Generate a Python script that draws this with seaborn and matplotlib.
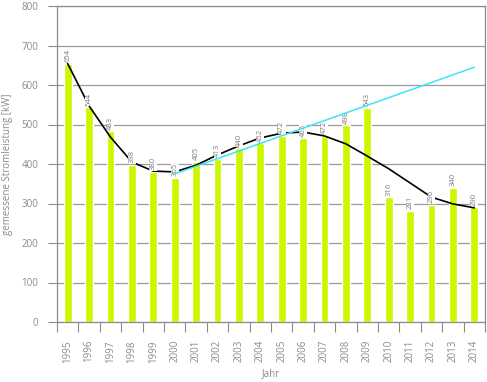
import matplotlib
matplotlib.use("Agg")
import matplotlib.pyplot as plt
from matplotlib.ticker import FixedLocator
import numpy as np
import pandas as pd
import seaborn as sns

# ── data ──────────────────────────────────────────────────────────────────────
years = [str(y) for y in range(1995, 2015)]
power_kw = [654, 544, 483, 398, 380, 365, 405, 413, 440, 452,
            472, 465, 472, 498, 543, 316, 281, 296, 340, 290]

# black smoothed trend (value per year)
smooth_kw = [654, 547, 468, 405, 382, 380, 397, 423, 446, 466,
             478, 481, 471, 451, 420, 388, 352, 316, 299, 289]

# cyan linear trend 2000 → 2014
lin_years = ["2000", "2014"]
lin_kw = [375, 645]

y_ticks = list(range(0, 801, 100))

BAR_COLOR = "#ccf700"
GREY = "#8a8a8a"

sns.set_theme(style="white")
plt.rcParams["font.family"] = ["Open Sans", "DejaVu Sans"]

fig = plt.figure(figsize=(4.87, 3.82), dpi=100)
ax = fig.add_axes([57 / 487, 1 - 322 / 382, 428 / 487, 316 / 382])

df = pd.DataFrame({"Jahr": years, "kW": power_kw})
sns.barplot(data=df, x="Jahr", y="kW", color=BAR_COLOR, width=0.36,
            saturation=1, ax=ax, zorder=2)

pos = np.arange(len(years))
sns.lineplot(x=pos, y=smooth_kw, color="black", linewidth=1.2, ax=ax, zorder=3)
lin_pos = [years.index(y) for y in lin_years]
sns.lineplot(x=lin_pos, y=lin_kw, color="#3de6f2", linewidth=1.1, ax=ax, zorder=5)

# value labels above bars (white box breaks the black curve like the original)
for i, v in enumerate(power_kw):
    ax.text(i, v + 4, str(v), rotation=90, ha="center", va="bottom",
            fontsize=5.5, color="#7a7a7a", zorder=4,
            bbox=dict(facecolor="white", edgecolor="none", pad=0.3))

ax.set_xlim(-0.5, len(years) - 0.5)
ax.set_ylim(0, 800)
ax.set_yticks(y_ticks)
ax.yaxis.grid(True, color="#9a9a9a", linewidth=0.9)
ax.set_axisbelow(True)

for side in ["left", "bottom", "right", "top"]:
    ax.spines[side].set_visible(True)
    ax.spines[side].set_color("#8c8c8c")
    ax.spines[side].set_linewidth(0.9)

ax.tick_params(axis="y", which="major", left=True, length=6.5, width=0.8,
               color="#8c8c8c", pad=7, labelsize=7, labelcolor=GREY)
ax.tick_params(axis="x", which="major", length=0, pad=13, labelsize=7,
               labelcolor=GREY, rotation=90)
ax.xaxis.set_minor_locator(FixedLocator(np.arange(-0.5, len(years), 1.0)))
ax.tick_params(axis="x", which="minor", bottom=True, length=7, width=0.8,
               color="#8c8c8c")

ax.set_xlabel("Jahr", fontsize=7, color=GREY, labelpad=4)
ax.set_ylabel("gemessene Stromleistung [kW]", fontsize=7, color=GREY, labelpad=6)

fig.savefig("out.png", dpi=100)
